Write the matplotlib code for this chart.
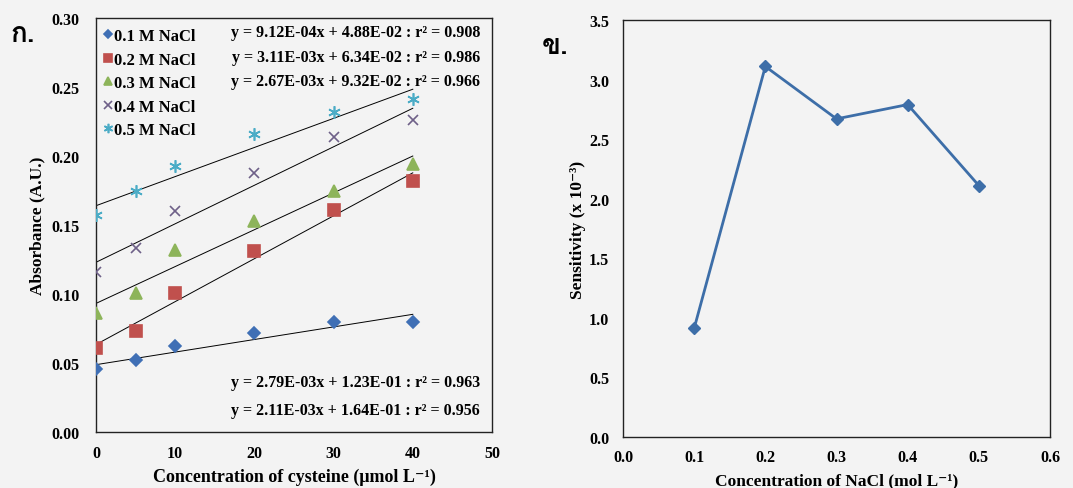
import numpy as np
import matplotlib
matplotlib.use('Agg')
import matplotlib.pyplot as plt
from matplotlib import font_manager
from matplotlib.ft2font import FT2Font

# Absorbance vs cysteine, one series per NaCl concentration
cysteine = [0, 5, 10, 20, 30, 40]
nacl_labels = ['0.1 M NaCl', '0.2 M NaCl', '0.3 M NaCl', '0.4 M NaCl', '0.5 M NaCl']
abs_01 = [0.046, 0.052, 0.062, 0.072, 0.080, 0.080]
abs_02 = [0.061, 0.073, 0.101, 0.131, 0.161, 0.182]
abs_03 = [0.086, 0.101, 0.132, 0.153, 0.175, 0.194]
abs_04 = [0.116, 0.133, 0.160, 0.188, 0.214, 0.226]
abs_05 = [0.157, 0.175, 0.193, 0.216, 0.232, 0.241]

# linear fits as printed on the chart
slopes = [9.12e-04, 3.11e-03, 2.67e-03, 2.79e-03, 2.11e-03]
intercepts = [4.88e-02, 6.34e-02, 9.32e-02, 1.23e-01, 1.64e-01]
r2 = [0.908, 0.986, 0.966, 0.963, 0.956]

# Sensitivity vs NaCl
nacl = [0.1, 0.2, 0.3, 0.4, 0.5]
sensitivity = [0.912, 3.11, 2.67, 2.79, 2.11]

'''
Finds an installed font that can draw Thai characters
'''
def findThaiFont():
    for f in font_manager.fontManager.ttflist:
        try:
            if 0x0E01 in FT2Font(f.fname).get_charmap():
                return f.name
        except Exception:
            pass
    return 'DejaVu Sans'

thaiFont = findThaiFont()
fonts = ['Liberation Serif', 'DejaVu Serif']
plt.rcParams['font.family'] = fonts
plt.rcParams['font.weight'] = 'bold'

bg = '#f3f3f3'
fig = plt.figure(figsize=(10.73, 4.89), dpi=100)
fig.patch.set_facecolor(bg)

ax1 = fig.add_axes([0.0895, 0.1145, 0.369, 0.8466])
ax2 = fig.add_axes([0.5806, 0.1043, 0.398, 0.8528])

series = [abs_01, abs_02, abs_03, abs_04, abs_05]
colors = ['#3f6fb5', '#c0504d', '#8db45a', '#6e6088', '#4bacc6']
markers = ['D', 's', '^', 'x', (6, 2, 0)]
sizes = [6, 8, 8, 7, 9]

xs = np.array([0, 40])
for s, b in zip(slopes, intercepts):
    ax1.plot(xs, s*xs + b, color='k', lw=0.7, zorder=2)

for vals, lab, c, m, ms in zip(series, nacl_labels, colors, markers, sizes):
    ax1.plot(cysteine, vals, linestyle='none', marker=m, color=c, markersize=ms,
             markeredgewidth=1.2, label=lab, zorder=3)

ax1.set_xlim(0, 50)
ax1.set_ylim(0, 0.30)
ax1.set_xticks(np.arange(0, 51, 10))
ax1.set_yticks(np.arange(0, 0.31, 0.05))
ax1.set_yticklabels([f'{v:.2f}' for v in np.arange(0, 0.31, 0.05)])
ax1.tick_params(length=0, labelsize=11.5)
ax1.tick_params(axis='y', pad=12)
ax1.tick_params(axis='x', pad=9)
ax1.set_facecolor(bg)
ax1.set_xlabel('Concentration of cysteine (\u03bcmol L\u207b\u00b9)', fontsize=13,
               fontweight='bold', labelpad=5)
ax1.set_ylabel('Absorbance (A.U.)', fontsize=12.5, fontweight='bold', labelpad=4)

leg = ax1.legend(loc='upper left', bbox_to_anchor=(-0.005, 1.0), frameon=False,
                 fontsize=12, handlelength=0.5, handletextpad=0.1,
                 labelspacing=0.45, borderaxespad=0.2, markerscale=0.75)

eqs = [f'y = {s:.2E}x + {b:.2E} : r\u00b2 = {r:.3f}' for s, b, r in zip(slopes, intercepts, r2)]
eq_y = [0.966, 0.906, 0.848, 0.121, 0.053]
for t, yy in zip(eqs, eq_y):
    ax1.text(0.97, yy, t, transform=ax1.transAxes, ha='right', va='center',
             fontsize=11.5, fontweight='bold')

ax2.plot(nacl, sensitivity, color='#3d6ea8', lw=2, marker='D', markersize=6, zorder=3)
ax2.set_xlim(0, 0.6)
ax2.set_ylim(0, 3.5)
ax2.set_xticks(np.arange(0, 0.61, 0.1))
ax2.set_xticklabels([f'{v:.1f}' for v in np.arange(0, 0.61, 0.1)])
ax2.set_yticks(np.arange(0, 3.51, 0.5))
ax2.set_yticklabels([f'{v:.1f}' for v in np.arange(0, 3.51, 0.5)])
ax2.tick_params(length=0, labelsize=11.5)
ax2.tick_params(axis='y', pad=10)
ax2.tick_params(axis='x', pad=9)
ax2.set_facecolor(bg)
ax2.set_xlabel('Concentration of NaCl (mol L\u207b\u00b9)', fontsize=12.5,
               fontweight='bold', labelpad=5)
ax2.set_ylabel('Sensitivity (x 10\u207b\u00b3)', fontsize=12.5, fontweight='bold', labelpad=2)

for ax in (ax1, ax2):
    for sp in ax.spines.values():
        sp.set_linewidth(1.0)
        sp.set_color('#222222')

fig.text(0.010, 0.915, '\u0e01.', fontsize=20, fontweight='bold', family=[thaiFont, 'DejaVu Sans'])
fig.text(0.505, 0.890, '\u0e02.', fontsize=20, fontweight='bold', family=[thaiFont, 'DejaVu Sans'])

fig.savefig('out.png', dpi=100, facecolor=bg)
